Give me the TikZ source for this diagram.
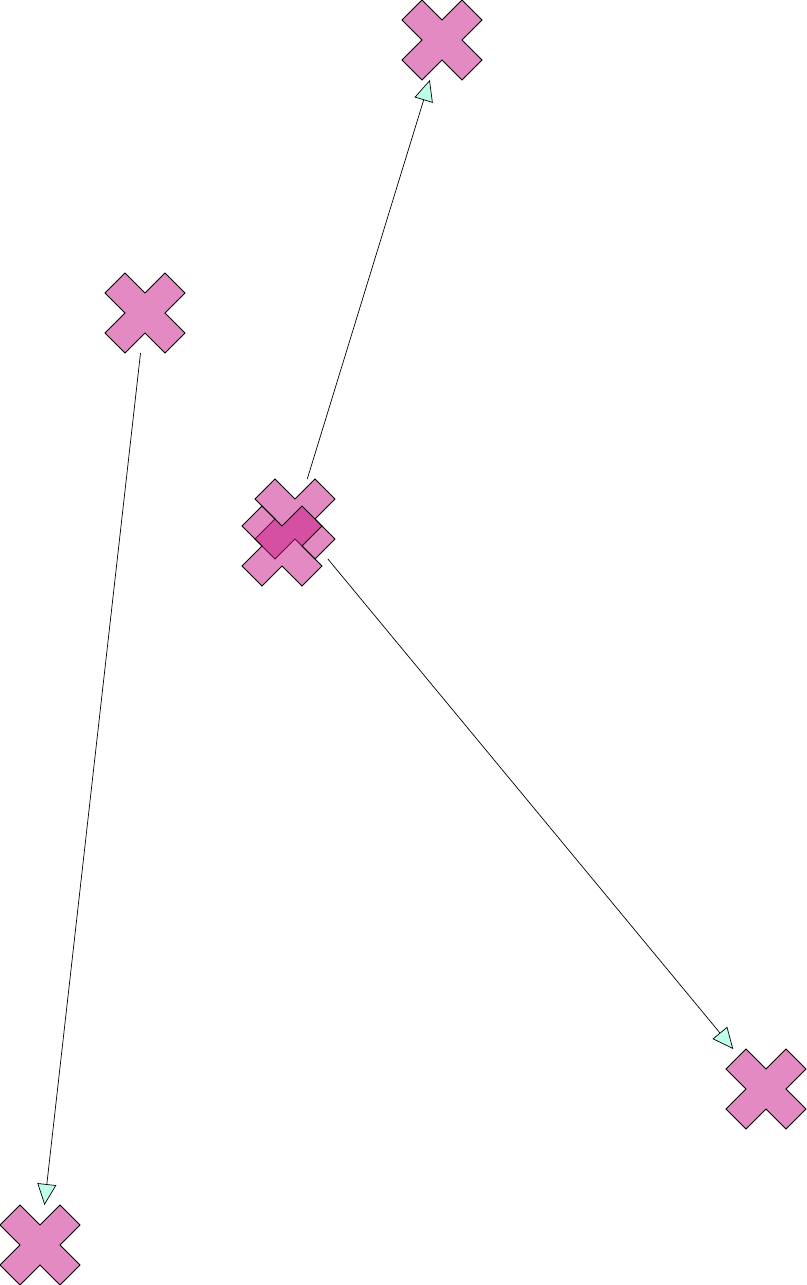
\documentclass[tikz,border=0pt]{standalone}
\usepackage{tikz}
\usetikzlibrary{arrows.meta}

\definecolor{crosspink}{RGB}{199,21,133}
\definecolor{tipmint}{RGB}{191,255,232}

\begin{document}
\begin{tikzpicture}[x=1pt, y=-1pt,
                    spot/.style={minimum size=80pt, inner sep=0pt, outer sep=0pt},
                    crossfill/.style={fill=crosspink, fill opacity=0.5, draw=black, line width=0.8pt, line join=miter},
                    link/.style={line width=0.7pt, -{Triangle[length=21pt, width=19pt, fill=tipmint, line width=0.7pt]}}]
              \useasboundingbox (0, 0) rectangle (806, 1285);
              \newcommand{\crossmark}[1]
              {%
                \begin{scope}[shift={(#1)}]
                  \draw[crossfill] (-40, -20) -- (-20, -40) -- (0, -20) -- (20, -40) -- (40, -20) -- (20, 0)
                                   -- (40, 20) -- (20, 40) -- (0, 20) -- (-20, 40) -- (-40, 20) -- (-20, 0) -- cycle;
                \end{scope}%
              }%
              \node[spot] (upper)    at (442,   40) {};
              \node[spot] (left)     at (145,  313) {};
              \node[spot] (hub)      at (295,  519) {};
              \node[spot] (twin)     at (282,  546) {};
              \node[spot] (lowright) at (766, 1089) {};
              \node[spot] (lowleft)  at ( 40, 1245) {};
              \crossmark{upper}
              \crossmark{left}
              \crossmark{hub}
              \crossmark{twin}
              \crossmark{lowright}
              \crossmark{lowleft}
              \draw[link] (hub)  -- (upper);
              \draw[link] (hub)  -- (lowright);
              \draw[link] (left) -- (lowleft);
            \end{tikzpicture}
\end{document}
